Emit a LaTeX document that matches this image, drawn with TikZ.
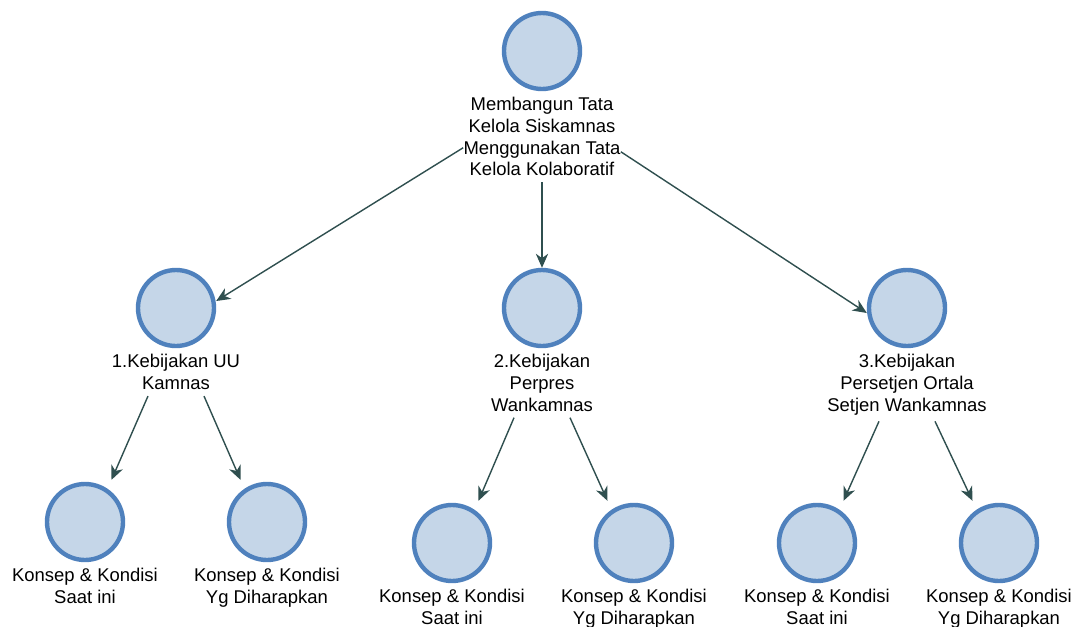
\documentclass[tikz,border=0pt]{standalone}
\usepackage{fontspec}
\setmainfont{Liberation Sans}
\usepackage{tikz}
\usetikzlibrary{positioning,arrows.meta}
\definecolor{bubfill}{HTML}{C5D6E8}
\definecolor{bubline}{HTML}{4F81BD}
\definecolor{arrowcol}{HTML}{2F4F4F}

\begin{document}
\begin{tikzpicture}[
    bubble/.style={circle, draw=bubline, fill=bubfill, line width=2.5pt, minimum size=1.52cm, inner sep=0},
    caption/.style={align=center, inner sep=0, font=\fontsize{10.5}{12.3}\selectfont},
    arrow/.style={draw=arrowcol, line width=0.8pt, -{Stealth[length=8pt,width=7pt,inset=2.5pt]}}]
    \useasboundingbox (0,0) rectangle (21.5,-12.52);

    % circles
    \node[bubble] (c0) at (10.84,-1.02) {};
    \node[bubble] (c1) at (3.52,-6.16) {};
    \node[bubble] (c2) at (10.84,-6.16) {};
    \node[bubble] (c3) at (18.14,-6.16) {};
    \node[bubble] (c11) at (1.70,-10.44) {};
    \node[bubble] (c12) at (5.34,-10.44) {};
    \node[bubble] (c21) at (9.04,-10.86) {};
    \node[bubble] (c22) at (12.68,-10.86) {};
    \node[bubble] (c31) at (16.34,-10.86) {};
    \node[bubble] (c32) at (19.98,-10.86) {};

    % captions
    \node[caption, below=0.12cm of c0] (l0) {Membangun Tata\\Kelola Siskamnas\\Menggunakan Tata\\Kelola Kolaboratif};
    \node[caption, below=0.12cm of c1] (l1) {1.Kebijakan UU\\Kamnas};
    \node[caption, below=0.12cm of c2] (l2) {2.Kebijakan\\Perpres\\Wankamnas};
    \node[caption, below=0.12cm of c3] (l3) {3.Kebijakan\\Persetjen Ortala\\Setjen Wankamnas};
    \foreach \c in {c11,c21,c31}
    {
      \node[caption, below=0.12cm of \c] (l\c) {Konsep \& Kondisi\\Saat ini};
    }
    \foreach \c in {c12,c22,c32}
    {
      \node[caption, below=0.12cm of \c] (l\c) {Konsep \& Kondisi\\Yg Diharapkan};
    }

    % arrows
    \draw[arrow] ([yshift=-0.22cm]l0.west) -- ([yshift=0.14cm]c1.east);
    \draw[arrow] ([yshift=-0.12cm]l0.south) -- (c2.north);
    \draw[arrow] ([yshift=-0.3cm]l0.east) -- ([yshift=-0.1cm]c3.west);
    \foreach \a/\b/\s in {l1/c11/-1,l1/c12/1,l2/c21/-1,l2/c22/1,l3/c31/-1,l3/c32/1}
    {
      \draw[arrow] ([xshift=\s*0.56cm,yshift=-0.12cm]\a.south) -- ([xshift=-0.53cm*\s,yshift=0.04cm]\b.north);
    }
\end{tikzpicture}
\end{document}
